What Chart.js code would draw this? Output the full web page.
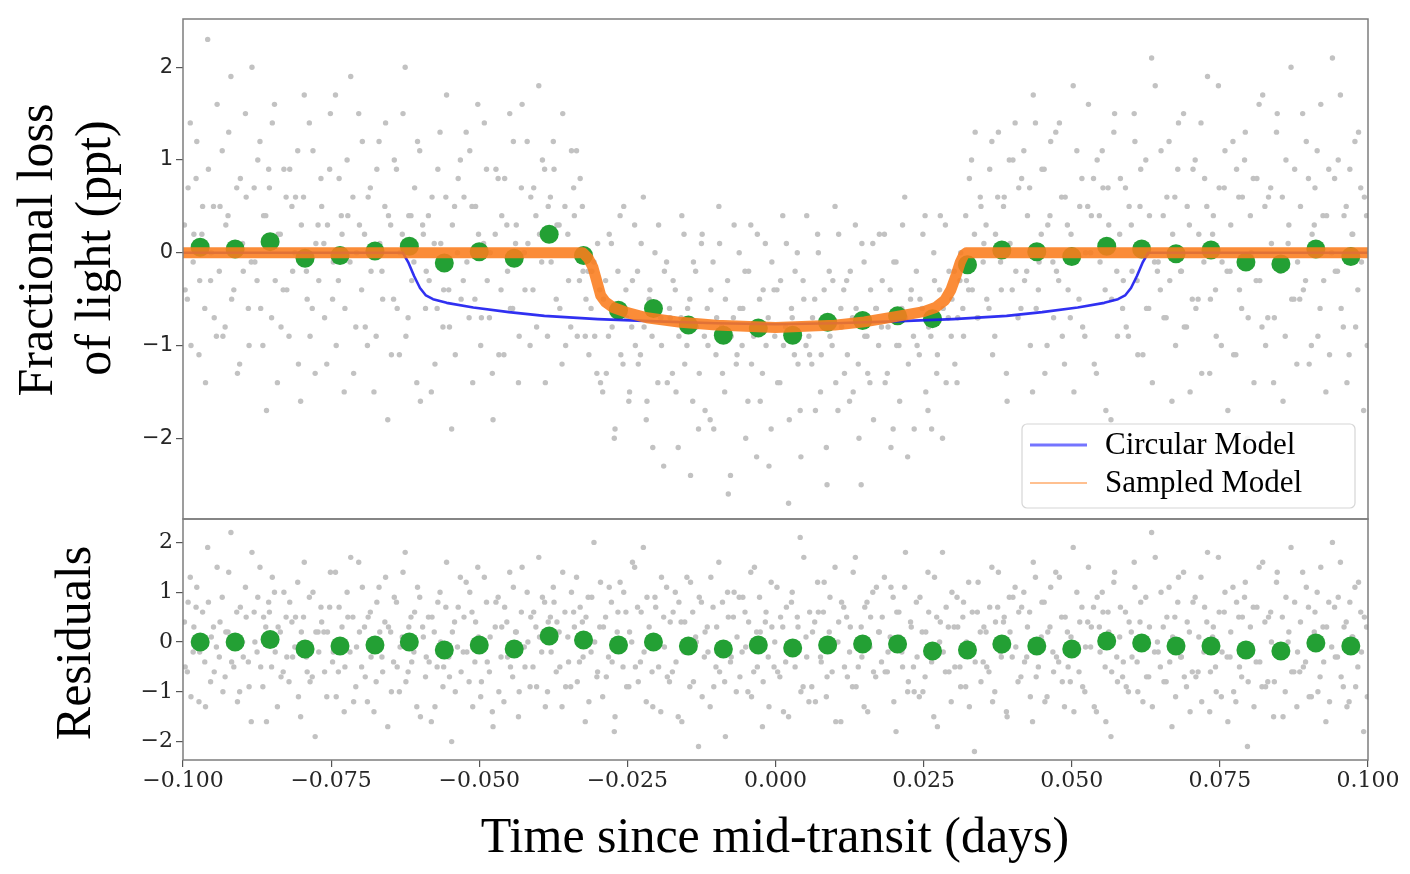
<!DOCTYPE html>
<html>
<head>
<meta charset="utf-8">
<script src="https://cdn.jsdelivr.net/npm/chart.js@4.4.1/dist/chart.umd.min.js"></script>
<style>
  html, body { margin: 0; padding: 0; background: #fff; }
  #page { position: relative; width: 1410px; height: 874px; background: #fff; overflow: hidden; }
  #topBox { position: absolute; left: 0; top: 0; width: 1410px; height: 521px; }
  #botBox { position: absolute; left: 0; top: 518px; width: 1410px; height: 356px; }
</style>
</head>
<body>
<div id="page">
  <div id="topBox"><canvas id="fluxChart"></canvas></div>
  <div id="botBox"><canvas id="residChart"></canvas></div>
</div>
<script>
// ---- data ----
// binned points (green)
const binTimes = [-0.0971, -0.0912, -0.0853, -0.0794, -0.0735, -0.0676, -0.0618, -0.0559, -0.0500, -0.0441,
  -0.0382, -0.0324, -0.0265, -0.0206, -0.0147, -0.0088, -0.0029, 0.0029, 0.0088, 0.0147,
  0.0206, 0.0265, 0.0324, 0.0382, 0.0441, 0.0500, 0.0559, 0.0618, 0.0676, 0.0735,
  0.0794, 0.0853, 0.0912, 0.0971];
const binFlux = [0.06, 0.04, 0.12, -0.06, -0.03, 0.02, 0.07, -0.11, 0.01, -0.06,
  0.20, -0.03, -0.62, -0.60, -0.78, -0.89, -0.81, -0.89, -0.75, -0.73,
  -0.68, -0.71, -0.13, 0.03, 0.01, -0.04, 0.07, 0.04, -0.01, 0.03,
  -0.10, -0.12, 0.04, -0.04];
const binResid = [0.00, 0.00, 0.05, -0.14, -0.08, -0.06, 0.00, -0.16, -0.06, -0.14,
  0.12, 0.04, -0.06, 0.00, -0.08, -0.14, -0.06, -0.12, -0.06, -0.04,
  -0.04, -0.18, -0.16, -0.04, -0.08, -0.14, 0.02, -0.02, -0.08, -0.08,
  -0.16, -0.18, -0.02, -0.08];

// circular model (blue)
const circTimes = [-0.1, -0.0629, -0.0620, -0.0610, -0.0600, -0.0590, -0.0578, -0.0555, -0.0510, -0.0450,
  -0.0390, -0.0300, -0.0200, -0.0100, 0, 0.0100, 0.0200, 0.0300, 0.0390, 0.0450,
  0.0510, 0.0555, 0.0578, 0.0590, 0.0600, 0.0610, 0.0620, 0.0629, 0.1];
const circFlux = [0, 0, -0.10, -0.25, -0.38, -0.46, -0.50, -0.54, -0.59, -0.64,
  -0.68, -0.715, -0.74, -0.76, -0.77, -0.76, -0.74, -0.715, -0.68, -0.64,
  -0.59, -0.54, -0.50, -0.46, -0.38, -0.25, -0.10, 0, 0];

// sampled model (orange)
const sampTimes = [-0.1, -0.0325, -0.0316, -0.0308, -0.0301, -0.0295, -0.0287, -0.0274, -0.0250, -0.0217,
  -0.0160, -0.0100, 0, 0.0100, 0.0150, 0.0210, 0.0250, 0.0270, 0.0286, 0.0296,
  0.0305, 0.0312, 0.0318, 0.0322, 0.1];
const sampFlux = [0, 0, -0.06, -0.16, -0.32, -0.46, -0.53, -0.59, -0.645, -0.70,
  -0.75, -0.78, -0.805, -0.78, -0.745, -0.68, -0.635, -0.59, -0.51, -0.40,
  -0.24, -0.10, -0.02, 0, 0];

// individual exposures (grey), two interleaved passes of 12 per bin, in time order
const grayFluxA = [
  0.3,-0.5,1.4,-0.1,0.8,-1.1,0.2,-0.6,2.3,-0.3,0.5,-0.9,
  -0.2,1.1,-0.8,0.4,1.9,-0.4,0.7,-1.2,0.1,1.5,-0.6,-0.1,
  0.7,-0.3,1.2,-1.0,0.4,0.9,-0.7,1.6,-1.4,0.2,-0.4,0.6,
  -0.9,0.5,0.0,1.1,-1.6,0.6,-0.2,1.4,-0.6,-1.3,0.3,0.8,
  0.1,-1.2,0.9,-0.5,1.7,-0.3,0.4,-1.5,1.0,-0.1,0.6,-0.8,
  1.5,-0.4,0.2,-1.0,0.7,0.0,-0.9,1.2,-0.2,0.5,-1.8,0.3,
  -0.5,0.9,-1.1,0.2,2.0,-0.7,0.4,-0.1,-1.4,1.1,0.3,-0.6,
  0.4,-1.5,0.1,-0.6,1.3,-0.8,0.6,-0.4,-1.9,0.5,0.0,1.0,
  -0.3,1.3,-0.7,0.5,-0.5,1.6,-1.0,0.1,0.9,-0.7,-1.3,0.2,
  0.8,-0.4,-1.1,0.3,1.5,-0.6,0.1,-1.4,0.7,0.0,1.2,-1.0,
  -0.4,0.4,1.8,-0.1,0.9,-0.9,0.6,1.2,-0.5,0.3,-1.2,0.5,
  0.2,-0.8,0.7,1.1,-0.3,0.5,-0.9,-0.2,-0.6,-0.1,-1.3,-0.4,
  -1.5,-0.3,-0.9,0.1,-2.0,-0.6,0.4,-1.2,-0.4,-1.6,-0.8,0.3,
  -0.2,-1.1,0.6,-1.8,-0.5,-0.9,0.0,-1.4,-0.7,-2.3,-0.1,-0.6,
  -1.3,-0.4,-2.1,-0.7,0.2,-1.0,-0.5,-1.6,-0.2,-1.9,0.1,-0.9,
  -0.6,-1.8,-0.1,-1.1,0.5,-0.8,-1.5,-0.3,-2.4,-0.7,-1.2,0.0,
  -1.0,-0.2,-1.6,0.3,-0.9,-2.2,-0.5,-1.3,0.1,-0.7,-1.9,-0.4,
  -0.4,-1.4,0.4,-0.8,-2.7,-0.6,-1.1,0.0,-1.7,-0.3,-1.0,-0.9,
  -1.2,-0.5,0.2,-1.5,-0.8,-2.1,-0.2,-1.0,0.5,-1.7,-0.6,-0.4,
  -0.3,-1.6,-0.7,0.3,-1.2,-2.5,-0.1,-0.9,-1.4,0.1,-0.6,-1.0,
  -0.8,0.2,-1.3,-0.4,-1.9,-0.1,-1.0,-0.6,0.6,-2.2,-0.5,-0.9,
  -0.2,-1.1,-0.6,0.4,-1.7,-0.9,0.0,-1.3,-0.4,-2.0,0.3,-0.7,
  -0.9,-0.2,-1.4,-0.3,-0.6,0.4,-0.4,1.0,0.2,-0.7,0.6,-0.1,
  0.3,-0.6,1.2,-0.9,0.6,-0.1,0.5,-1.3,1.0,-0.4,1.4,-0.7,
  -0.6,1.1,-0.2,0.7,-1.5,1.4,-0.4,0.2,0.9,-1.0,0.4,-0.1,
  1.3,-0.3,0.6,-1.2,0.3,-0.7,1.8,0.0,-0.5,0.8,-0.9,0.5,
  0.0,0.8,-1.3,0.4,1.1,-0.4,0.7,-1.8,1.3,-0.2,0.2,-0.6,
  0.7,-0.9,0.3,1.5,-0.3,0.5,-1.1,1.0,-0.6,2.1,-0.1,-0.2,
  -0.4,0.4,-0.7,1.2,-1.6,0.6,0.9,-0.2,1.5,-0.8,0.3,-0.5,
  1.0,-0.5,1.4,-0.1,0.5,-1.3,0.2,-0.4,1.8,-1.0,0.7,-0.2,
  -0.2,1.2,-1.1,0.6,-0.6,1.0,-2.0,0.4,0.8,-0.3,1.6,-0.8,
  0.5,-0.7,0.7,-1.4,1.3,-0.1,0.6,-0.9,0.1,2.0,-0.5,-1.2,
  -0.5,1.5,-0.3,0.8,-1.0,0.3,1.1,-0.6,0.4,-1.5,0.9,0.0,
  0.8,-0.2,1.7,-0.8,0.5,-1.1,0.2,1.2,-0.4,0.7,-1.7,0.4
];
const grayFluxB = [
  -0.4,0.7,-1.0,0.2,1.2,-0.3,0.5,-1.4,0.9,0.0,-0.7,1.6,
  0.5,-0.9,0.3,1.3,-0.5,0.1,-1.3,0.8,-0.2,0.6,-1.0,2.0,
  -0.1,1.0,-0.6,0.4,-1.7,0.7,1.4,-0.3,0.2,-0.8,0.9,-0.4,
  0.9,-0.2,0.6,-1.2,0.3,1.7,-0.5,-0.9,1.1,0.1,-0.3,0.5,
  -0.7,0.3,1.5,-0.1,-1.0,0.8,0.2,-0.6,0.4,1.9,-1.3,0.0,
  0.3,1.2,-0.8,0.6,-0.2,-1.5,0.9,0.1,-0.5,1.4,0.4,-1.1,
  1.0,-0.6,0.0,1.5,-0.9,0.4,-0.3,0.7,1.2,-1.6,0.2,-0.2,
  -0.3,0.6,-1.2,0.9,0.1,-0.4,1.7,-0.8,0.3,-1.1,0.8,-0.5,
  0.6,-0.1,1.1,-1.4,0.5,0.2,-0.7,1.4,-0.3,0.0,-1.8,0.9,
  -1.1,0.4,0.8,-0.2,-0.6,1.2,0.3,-0.9,1.6,-0.4,0.1,0.6,
  0.7,-0.8,0.2,1.0,-1.4,0.5,-0.1,0.9,0.3,-0.6,1.5,-1.0,
  -0.3,1.1,0.4,-0.9,0.8,-0.2,-0.5,-1.1,-0.2,-0.9,0.1,-1.4,
  -0.5,-1.3,0.2,-0.8,-1.9,-0.2,-1.1,0.5,-0.7,-1.5,-0.3,-1.0,
  -1.2,0.1,-0.8,-1.6,-0.4,-2.1,-0.6,0.3,-1.0,-0.2,-1.4,-0.7,
  -0.3,-1.5,-0.9,0.4,-1.2,-0.6,-2.4,-0.1,-0.8,-1.3,0.2,-1.7,
  -1.0,-0.4,-1.9,-0.7,0.1,-1.3,-0.5,-2.6,-0.9,0.3,-1.1,-0.6,
  -0.6,-2.0,-0.2,-1.2,-0.8,0.2,-1.6,-0.4,-1.0,-2.3,-0.1,-0.9,
  -1.4,-0.3,-1.0,0.1,-1.8,-0.7,-0.2,-1.2,-2.2,-0.5,0.4,-1.1,
  -0.7,-1.7,0.0,-1.1,-0.4,-2.5,-0.9,-0.3,-1.4,0.2,-0.8,-1.3,
  -1.1,-0.2,-1.5,-0.6,-2.0,0.1,-0.9,-1.3,-0.4,-1.8,-0.6,0.2,
  -0.3,-1.4,-0.8,-2.1,-0.1,-1.0,-1.6,0.3,-0.7,-1.2,-0.4,-1.9,
  -1.0,-0.5,0.2,-1.5,-0.8,-1.9,-0.3,-1.1,0.4,-0.6,-1.4,-0.2,
  -0.5,-1.2,-0.7,0.0,-0.9,-0.3,0.8,-0.4,1.3,-0.7,0.5,0.1,
  -0.5,0.9,-1.1,0.2,1.3,-0.4,0.6,-1.6,0.1,1.0,-0.2,0.7,
  0.8,-0.3,0.4,-1.0,1.7,-0.6,-0.1,0.9,-1.3,0.3,1.2,-0.7,
  -0.2,1.4,-0.9,0.6,-0.4,0.2,-1.5,1.1,0.5,-0.8,0.0,1.6,
  0.4,-1.2,1.0,-0.1,0.7,-1.7,0.3,-0.5,1.5,-0.9,0.8,-0.3,
  -0.8,0.5,-0.2,1.2,-1.1,0.9,0.1,-0.6,0.4,-1.4,1.8,-0.1,
  1.1,-0.7,0.6,-0.3,0.2,-1.0,1.4,-0.2,-0.8,0.5,-1.5,0.9,
  -0.6,0.2,-1.3,0.8,1.9,-0.5,0.4,-0.9,0.7,-0.1,1.1,-1.7,
  0.3,-1.1,0.9,-0.4,0.6,1.3,-0.7,0.0,-1.4,0.8,-0.3,1.7,
  -1.0,0.6,0.1,-0.7,1.5,-0.2,-1.6,1.0,0.3,-0.5,0.9,-0.1,
  0.5,-0.4,1.2,-1.2,0.2,0.7,-0.9,1.6,-0.3,0.4,-1.1,2.1,
  -0.2,1.0,-0.6,0.4,-1.4,0.9,0.2,-0.8,1.3,-0.1,0.6,-1.0
];
const grayResidA = [
  0.4,-0.6,1.3,-0.2,0.7,-1.2,0.1,-0.4,1.9,-0.8,0.3,-0.1,
  -0.3,0.9,-0.7,0.2,2.2,-0.5,0.6,-1.0,0.0,1.1,-0.4,-1.6,
  0.6,-0.2,1.5,-0.9,0.3,0.8,-0.5,1.0,-1.3,0.2,-0.6,0.5,
  -0.8,0.4,-0.1,1.2,-1.5,0.5,-0.3,0.9,-0.7,-1.9,0.2,0.7,
  0.2,-1.1,0.7,-0.4,1.4,-0.6,0.0,-1.4,1.0,-0.2,0.5,-0.9,
  1.6,-0.5,0.3,-1.2,0.6,-0.1,-0.8,1.1,-0.3,0.4,-1.7,0.2,
  -0.4,0.8,-1.0,0.1,1.8,-0.6,0.5,-0.2,-1.3,0.9,0.3,-0.7,
  0.5,-1.6,0.2,-0.5,1.0,-0.9,0.7,-0.3,-2.0,0.4,-0.1,1.3,
  -0.2,1.2,-0.8,0.6,-0.4,1.5,-1.1,0.0,0.8,-0.6,-1.4,0.3,
  0.9,-0.3,-1.2,0.4,1.4,-0.7,0.2,-1.5,0.6,-0.1,1.0,-0.9,
  -0.5,0.3,1.7,-0.2,0.8,-1.0,0.5,1.1,-0.6,0.2,-1.3,0.6,
  0.1,-0.9,0.6,1.3,-0.4,0.4,-1.6,0.9,-0.2,2.0,-0.7,0.3,
  -1.1,0.5,-0.3,0.8,-1.8,0.2,1.2,-0.5,0.6,-0.9,0.0,1.5,
  0.7,-0.4,1.9,-1.2,0.3,-0.6,0.9,-0.1,-1.4,0.5,1.1,-0.8,
  -0.6,1.0,-1.5,0.4,-0.2,1.3,-0.9,0.6,0.1,-2.1,0.8,-0.3,
  0.3,-1.3,0.7,-0.5,1.6,-0.1,-0.8,1.0,-0.4,0.5,-1.0,0.9,
  -0.2,0.6,-1.0,1.4,-0.6,0.2,0.9,-1.7,0.4,-0.3,1.2,-0.5,
  1.1,-0.7,0.3,-0.4,-1.5,0.8,-0.1,0.5,2.1,-0.9,0.1,-1.2,
  -0.9,0.4,1.2,-0.3,0.6,-1.1,0.2,-0.6,1.5,0.0,-1.6,0.7,
  0.5,-0.2,-0.9,1.7,-0.5,0.3,-1.3,0.8,-0.1,1.0,-0.7,0.2,
  -0.4,1.3,-0.6,0.1,0.9,-1.8,0.6,-0.2,1.1,-1.0,0.4,-0.5,
  0.8,-1.1,0.2,-0.7,1.4,-0.3,-1.5,0.5,0.0,1.8,-0.6,0.3,
  -1.2,0.3,0.9,-0.5,0.5,-0.9,1.2,-0.1,-2.2,0.6,0.2,-0.4,
  0.2,-0.6,1.5,-1.0,0.7,-0.2,0.4,-1.4,0.9,-0.3,1.1,-0.8,
  -0.7,1.0,-0.3,0.6,-1.6,1.3,-0.5,0.1,0.8,-1.1,0.3,-0.2,
  1.4,-0.4,0.5,-1.3,0.2,-0.8,1.9,-0.1,-0.6,0.7,-1.0,0.4,
  -0.1,0.7,-1.4,0.3,1.0,-0.5,0.6,-1.9,1.2,-0.3,0.1,-0.7,
  0.6,-1.0,0.2,1.6,-0.4,0.4,-1.2,0.9,-0.7,2.2,-0.2,0.0,
  -0.5,0.3,-0.8,1.1,-1.7,0.5,0.8,-0.3,1.4,-0.9,0.2,-0.6,
  0.9,-0.6,1.3,-0.2,0.4,-1.4,0.1,-0.5,1.7,-1.1,0.6,-0.3,
  -0.3,1.1,-1.2,0.5,-0.7,0.9,-2.1,0.3,0.7,-0.4,1.5,-0.9,
  0.4,-0.8,0.6,-1.5,1.2,-0.2,0.5,-1.0,0.0,1.9,-0.6,-1.3,
  -0.6,1.4,-0.4,0.7,-1.1,0.2,1.0,-0.7,0.3,-1.6,0.8,-0.1,
  0.7,-0.3,1.6,-0.9,0.4,-1.2,0.1,1.1,-0.5,0.6,-1.8,0.3
];
const grayResidB = [
  -0.5,0.8,-1.1,0.3,1.1,-0.2,0.6,-1.3,0.8,0.1,-0.6,1.5,
  0.4,-1.0,0.2,1.4,-0.4,0.0,-1.2,0.7,-0.3,0.5,-0.9,1.8,
  0.0,0.9,-0.5,0.5,-1.6,0.6,1.3,-0.2,0.3,-0.7,1.0,-0.3,
  0.8,-0.3,0.5,-1.1,0.2,1.6,-0.6,-0.8,1.0,0.2,-0.2,0.4,
  -0.6,0.2,1.4,-0.2,-1.1,0.7,0.3,-0.5,0.5,1.7,-1.2,-0.1,
  0.2,1.1,-0.7,0.5,-0.3,-1.4,0.8,0.2,-0.6,1.3,0.3,-1.0,
  0.9,-0.5,-0.1,1.4,-0.8,0.3,-0.4,0.6,1.1,-1.5,0.1,-0.3,
  -0.4,0.5,-1.3,0.8,0.0,-0.5,1.6,-0.7,0.2,-1.0,0.7,-0.6,
  0.5,-0.2,1.0,-1.3,0.4,0.1,-0.8,1.3,-0.4,0.1,-1.7,0.8,
  -1.0,0.3,0.7,-0.3,-0.5,1.1,0.2,-1.0,1.5,-0.5,0.0,0.5,
  0.6,-0.9,0.1,0.9,-1.3,0.4,-0.2,0.8,0.4,-0.5,1.4,-0.9,
  -0.4,1.0,0.3,-0.8,0.7,-0.3,0.5,-1.2,0.9,0.0,-0.6,1.2,
  0.3,-0.7,1.1,-0.4,-1.5,0.6,-0.1,1.0,-0.9,0.2,1.6,-0.5,
  -0.8,0.6,-0.2,0.9,0.1,-1.3,0.7,-0.5,1.3,-0.1,-0.7,0.4,
  0.6,-0.4,0.8,-1.6,0.4,-0.1,1.2,-0.8,0.0,0.9,-1.1,0.2,
  -0.2,1.3,-0.9,0.3,-0.6,0.8,-1.9,0.5,-0.3,1.0,0.1,-0.7,
  0.9,-0.1,0.4,-1.1,1.5,-0.5,0.2,-0.8,0.6,-1.3,0.3,0.0,
  -0.6,0.5,-1.4,0.7,-0.2,1.0,-0.5,0.3,-1.0,1.7,-0.3,0.6,
  0.2,-1.2,0.6,-0.4,1.2,-0.7,0.9,-0.1,-1.6,0.4,0.8,-0.5,
  -0.7,0.3,1.4,-0.9,0.0,-0.3,0.7,-1.4,0.5,-0.6,1.1,0.2,
  0.5,-0.6,-0.2,1.1,-1.2,0.6,0.1,-0.5,1.8,-0.8,0.3,-1.0,
  -0.3,0.9,-1.0,0.2,0.6,-0.4,1.3,-1.7,0.4,-0.2,0.7,-0.6,
  1.0,-0.5,0.3,-0.9,0.8,0.0,-1.3,0.6,-0.4,1.2,-0.8,0.3,
  -0.5,0.7,-1.2,0.4,1.4,-0.3,0.5,-1.5,0.2,0.9,-0.1,0.6,
  0.7,-0.4,0.3,-1.1,1.6,-0.7,-0.2,0.8,-1.2,0.2,1.1,-0.6,
  -0.3,1.3,-0.8,0.5,-0.5,0.1,-1.4,1.0,0.4,-0.9,-0.1,1.5,
  0.3,-1.3,0.9,-0.2,0.6,-1.6,0.2,-0.6,1.4,-0.8,0.7,-0.4,
  -0.9,0.4,-0.3,1.1,-1.0,0.8,0.0,-0.7,0.3,-1.3,1.7,-0.2,
  1.0,-0.8,0.5,-0.4,0.1,-1.1,1.3,-0.3,-0.7,0.4,-1.4,0.8,
  -0.7,0.1,-1.2,0.7,1.8,-0.6,0.3,-1.0,0.6,-0.2,1.0,-1.6,
  0.2,-1.0,0.8,-0.5,0.5,1.2,-0.8,-0.1,-1.3,0.7,-0.4,1.6,
  -0.9,0.5,0.0,-0.8,1.4,-0.3,-1.5,0.9,0.2,-0.6,0.8,-0.2,
  0.4,-0.5,1.1,-1.1,0.1,0.6,-1.0,1.5,-0.4,0.3,-1.2,2.0,
  -0.3,0.9,-0.7,0.3,-1.3,0.8,0.1,-0.9,1.2,-0.2,0.5,-1.1
];
// exposures are on a regular cadence across the window
const timeStart = -0.1, timeEnd = 0.1;

const fluxTicks = [-2, -1, 0, 1, 2];
const residTicks = [-2, -1, 0, 1, 2];
const timeTicks = [-0.1, -0.075, -0.05, -0.025, 0, 0.025, 0.05, 0.075, 0.1];

// ---- helpers ----
function pts(xs, ys) { return xs.map((x, i) => ({ x: x, y: ys[i] })); }
function cadence(ys, phase) {
  const step = (timeEnd - timeStart) / ys.length;
  return ys.map((y, i) => ({ x: timeStart + (i + phase) * step, y: y }));
}
function minus(s) { return s.replace('-', '\u2212'); }

const GREY = '#c2c2c2';
const GREEN = 'rgb(35,160,52)';
const TICK_COLOR = '#262626';

// frame round the plot area
const framePlugin = {
  id: 'frame',
  afterDatasetsDraw(chart) {
    const { ctx, chartArea: a } = chart;
    ctx.save();
    ctx.strokeStyle = '#7d7d7d';
    ctx.lineWidth = 1.5;
    ctx.strokeRect(a.left, a.top, a.right - a.left, a.bottom - a.top);
    ctx.restore();
  }
};

// axis titles drawn where the figure has them
const titlePlugin = {
  id: 'axisTitles',
  afterDraw(chart, args, opts) {
    const ctx = chart.ctx;
    ctx.save();
    ctx.fillStyle = '#000';
    ctx.font = opts.font;
    ctx.textAlign = 'center';
    ctx.textBaseline = 'alphabetic';
    (opts.items || []).forEach(it => {
      ctx.save();
      ctx.translate(it.x, it.y);
      if (it.rotate) ctx.rotate(-Math.PI / 2);
      ctx.fillText(it.text, 0, 0);
      ctx.restore();
    });
    ctx.restore();
  }
};

// legend box inside the top panel
const boxLegendPlugin = {
  id: 'boxLegend',
  afterDraw(chart, args, opts) {
    if (!opts.display) return;
    const ctx = chart.ctx;
    const items = chart.data.datasets.filter(d => d.legendColor);
    ctx.save();
    ctx.beginPath();
    ctx.roundRect(opts.left, opts.top, opts.width, opts.height, 5);
    ctx.fillStyle = 'rgba(255,255,255,0.85)';
    ctx.fill();
    ctx.strokeStyle = '#d6d6d6';
    ctx.lineWidth = 1.2;
    ctx.stroke();
    ctx.font = opts.font;
    ctx.textBaseline = 'middle';
    ctx.textAlign = 'left';
    items.forEach((d, i) => {
      const y = opts.firstRow + i * opts.rowGap;
      ctx.beginPath();
      ctx.moveTo(opts.left + 8, y);
      ctx.lineTo(opts.left + 65, y);
      ctx.strokeStyle = d.legendColor;
      ctx.lineWidth = d.legendWidth;
      ctx.stroke();
      ctx.fillStyle = '#000';
      ctx.fillText(d.label, opts.left + 83, y + 1);
    });
    ctx.restore();
  }
};

function yAxis(min, max, ticks, font) {
  return {
    type: 'linear',
    min: min,
    max: max,
    afterFit(scale) {
      scale.width = 183;
      scale.paddingTop = 0;
      scale.paddingBottom = 0;
    },
    afterBuildTicks(scale) { scale.ticks = ticks.map(v => ({ value: v })); },
    grid: { display: true, drawOnChartArea: false, drawTicks: true, tickLength: 7, color: '#555', lineWidth: 1.2 },
    border: { display: false },
    ticks: {
      color: TICK_COLOR,
      font: font,
      padding: 3,
      callback: v => minus(String(v))
    }
  };
}

// ---- top panel: light curve ----
new Chart(document.getElementById('fluxChart'), {
  type: 'scatter',
  data: {
    datasets: [
      {
        label: 'Circular Model',
        data: pts(circTimes, circFlux),
        showLine: true,
        borderColor: 'rgba(25,25,240,0.9)',
        borderWidth: 2.6,
        borderJoinStyle: 'round',
        pointRadius: 0,
        legendColor: 'rgba(70,70,255,0.75)',
        legendWidth: 3,
        order: 2
      },
      {
        label: 'Sampled Model',
        data: pts(sampTimes, sampFlux),
        showLine: true,
        borderColor: 'rgba(250,124,28,0.88)',
        borderWidth: 11,
        borderJoinStyle: 'round',
        borderCapStyle: 'round',
        pointRadius: 0,
        legendColor: 'rgba(255,150,70,0.6)',
        legendWidth: 2.2,
        order: 1
      },
      {
        label: 'Binned',
        data: pts(binTimes, binFlux),
        backgroundColor: GREEN,
        borderWidth: 0,
        pointRadius: 9.5,
        order: 3
      },
      {
        label: 'Data',
        data: cadence(grayFluxA, 0.5).concat(cadence(grayFluxB, 0.75)),
        backgroundColor: GREY,
        borderWidth: 0,
        pointRadius: 2.7,
        order: 4
      }
    ]
  },
  options: {
    responsive: true,
    maintainAspectRatio: false,
    animation: false,
    layout: { autoPadding: false, padding: { left: 0, right: 42, top: 19, bottom: 2 } },
    scales: {
      x: { type: 'linear', min: timeStart, max: timeEnd, display: false },
      y: yAxis(-2.87, 2.52, fluxTicks, { family: '"DejaVu Sans", sans-serif', size: 21 })
    },
    plugins: {
      legend: { display: false },
      tooltip: { enabled: false },
      boxLegend: {
        display: true, left: 1022, top: 424, width: 333, height: 84,
        firstRow: 445, rowGap: 38, font: '31px "Liberation Serif"'
      },
      axisTitles: {
        font: '50px "Liberation Serif"',
        items: [
          { text: 'Fractional loss', x: 52, y: 250, rotate: true },
          { text: 'of light (ppt)', x: 110, y: 248, rotate: true }
        ]
      }
    }
  },
  plugins: [framePlugin, boxLegendPlugin, titlePlugin]
});

// ---- bottom panel: residuals ----
new Chart(document.getElementById('residChart'), {
  type: 'scatter',
  data: {
    datasets: [
      {
        label: 'Binned residuals',
        data: pts(binTimes, binResid),
        backgroundColor: GREEN,
        borderWidth: 0,
        pointRadius: 9.5,
        order: 1
      },
      {
        label: 'Residuals',
        data: cadence(grayResidA, 0.5).concat(cadence(grayResidB, 0.75)),
        backgroundColor: GREY,
        borderWidth: 0,
        pointRadius: 2.7,
        order: 2
      }
    ]
  },
  options: {
    responsive: true,
    maintainAspectRatio: false,
    animation: false,
    layout: { autoPadding: false, padding: { left: 0, right: 42, top: 1, bottom: 0 } },
    scales: {
      x: {
        type: 'linear',
        min: timeStart,
        max: timeEnd,
        afterFit(scale) { scale.height = 114; },
        afterBuildTicks(scale) { scale.ticks = timeTicks.map(v => ({ value: v })); },
        grid: { display: true, drawOnChartArea: false, drawTicks: true, tickLength: 7, color: '#555', lineWidth: 1.2 },
        border: { display: false },
        ticks: {
          color: TICK_COLOR,
          font: { family: '"DejaVu Serif", serif', size: 22 },
          padding: 1,
          maxRotation: 0,
          callback: v => minus(v.toFixed(3))
        }
      },
      y: yAxis(-2.37, 2.47, residTicks, { family: '"DejaVu Serif", serif', size: 22 })
    },
    plugins: {
      legend: { display: false },
      tooltip: { enabled: false },
      axisTitles: {
        font: '50px "Liberation Serif"',
        items: [
          { text: 'Residuals', x: 90, y: 125, rotate: true },
          { text: 'Time since mid-transit (days)', x: 775, y: 334, rotate: false }
        ]
      }
    }
  },
  plugins: [framePlugin, titlePlugin]
});
</script>
</body>
</html>
